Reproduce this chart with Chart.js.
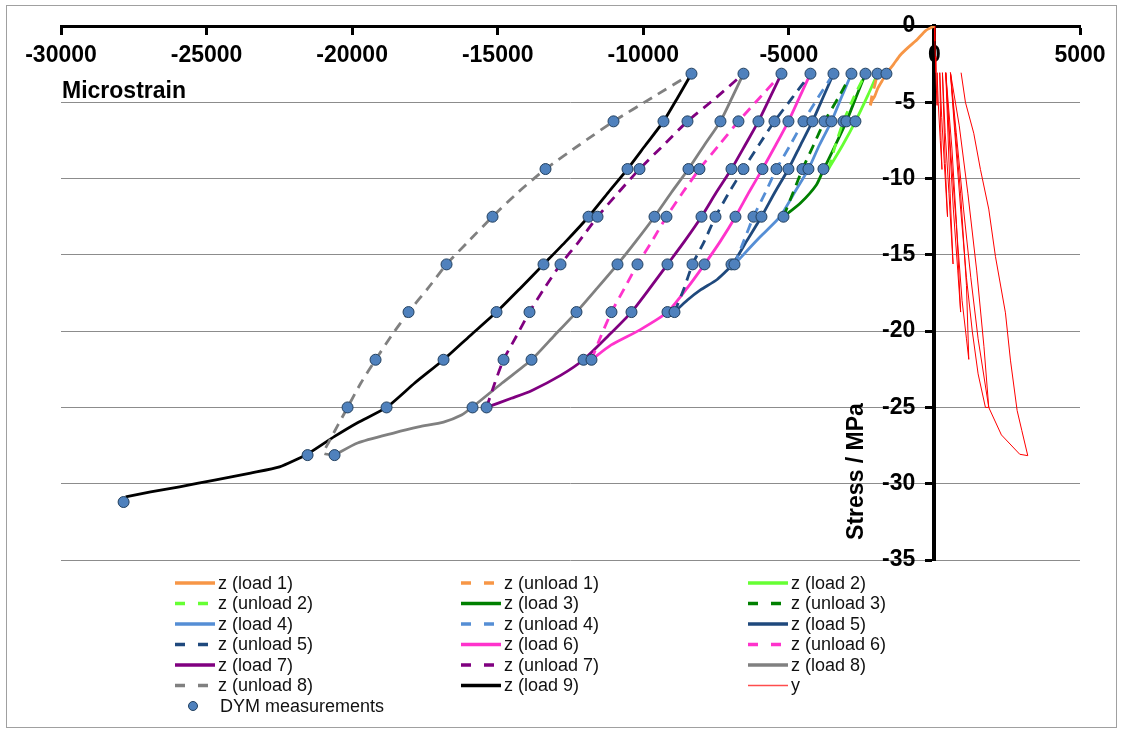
<!DOCTYPE html>
<html>
<head>
<meta charset="utf-8">
<title>Stress vs microstrain</title>
<script src="https://cdn.jsdelivr.net/npm/chart.js@4.4.1/dist/chart.umd.min.js"></script>
<style>
  html, body { margin: 0; padding: 0; background: #fff; }
  #wrap { width: 1123px; height: 733px; }
</style>
</head>
<body>
<div id="wrap"><canvas id="myChart" width="1123" height="733"></canvas></div>
<script>
// [microstrain, stress MPa]
const zLoad1 = [[0,0],[-300,-0.3],[-600,-0.9],[-900,-1.4],[-1170,-1.9],[-1400,-2.5],[-1650,-3.125],[-1800,-3.6],[-1950,-4.1],[-2050,-4.6],[-2150,-4.9],[-2200,-5.2]];
const zUnload1 = [[-2200,-5.2],[-2150,-4.6],[-2050,-3.9],[-1957,-3.125]];
const zLoad2 = [[-1957,-3.125],[-2300,-4.6],[-2713,-6.25],[-3150,-7.8],[-3640,-9.375]];
const zUnload2 = [[-3640,-9.375],[-3400,-7.8],[-3125,-6.25],[-2750,-4.6],[-2369,-3.125]];
const zLoad3 = [[-2369,-3.125],[-2700,-4.7],[-3022,-6.25],[-3400,-7.8],[-3800,-9.375],[-4050,-10.4],[-4600,-11.6],[-5185,-12.5]];
const zUnload3 = [[-5185,-12.5],[-4850,-10.9],[-4533,-9.375],[-4150,-7.8],[-3777,-6.25],[-3300,-4.7],[-2850,-3.125]];
const zLoad4 = [[-2850,-3.125],[-3200,-4.7],[-3537,-6.25],[-3950,-7.8],[-4327,-9.375],[-4800,-10.9],[-5300,-12.5],[-5975,-13.8],[-6421,-14.7],[-6868,-15.625]];
const zUnload4 = [[-6868,-15.625],[-6550,-14.1],[-6215,-12.5],[-5800,-10.9],[-5426,-9.375],[-4950,-7.8],[-4498,-6.25],[-4000,-4.7],[-3468,-3.125]];
const zLoad5 = [[-3468,-3.125],[-3830,-4.7],[-4190,-6.25],[-4600,-7.8],[-5014,-9.375],[-5480,-10.9],[-5941,-12.5],[-6450,-14.1],[-6937,-15.625],[-7452,-16.6],[-8035,-17.3],[-8482,-17.96],[-8928,-18.75]];
const zUnload5 = [[-8928,-18.75],[-8600,-17.2],[-8310,-15.625],[-7900,-14.1],[-7520,-12.5],[-7050,-10.9],[-6560,-9.375],[-6030,-7.8],[-5494,-6.25],[-4880,-4.7],[-4258,-3.125]];
const zLoad6 = [[-4258,-3.125],[-4640,-4.7],[-5014,-6.25],[-5450,-7.8],[-5906,-9.375],[-6370,-10.9],[-6834,-12.5],[-7350,-14.1],[-7898,-15.625],[-8500,-17.2],[-9169,-18.75],[-10100,-19.9],[-11100,-20.9],[-11780,-21.875]];
const zUnload6 = [[-11780,-21.875],[-11450,-20.3],[-11092,-18.75],[-10650,-17.2],[-10199,-15.625],[-9700,-14.1],[-9203,-12.5],[-8640,-10.9],[-8070,-9.375],[-7400,-7.8],[-6731,-6.25],[-6000,-4.7],[-5254,-3.125]];
const zLoad7 = [[-5254,-3.125],[-5650,-4.7],[-6044,-6.25],[-6500,-7.8],[-6971,-9.375],[-7490,-10.9],[-8001,-12.5],[-8580,-14.1],[-9169,-15.625],[-9780,-17.2],[-10405,-18.75],[-11200,-20.3],[-12053,-21.875],[-12840,-22.9],[-13840,-23.9],[-14530,-24.4],[-15384,-25]];
const zUnload7 = [[-15384,-25],[-15100,-23.4],[-14800,-21.875],[-14350,-20.3],[-13908,-18.75],[-13400,-17.2],[-12843,-15.625],[-12200,-14.1],[-11572,-12.5],[-10850,-10.9],[-10130,-9.375],[-9300,-7.8],[-8482,-6.25],[-7500,-4.7],[-6559,-3.125]];
const zLoad8 = [[-6559,-3.125],[-6950,-4.7],[-7349,-6.25],[-7900,-7.8],[-8448,-9.375],[-9030,-10.9],[-9615,-12.5],[-10250,-14.1],[-10886,-15.625],[-11590,-17.2],[-12294,-18.75],[-13060,-20.3],[-13839,-21.875],[-14850,-23.4],[-15865,-24.97],[-16243,-25.5],[-16861,-25.96],[-17719,-26.28],[-18578,-26.68],[-19814,-27.33],[-20604,-28.125]];
const zUnload8 = [[-20604,-28.125],[-20980,-28.0],[-20810,-27.3],[-20157,-25],[-19700,-23.4],[-19196,-21.875],[-18650,-20.3],[-18063,-18.75],[-17400,-17.2],[-16758,-15.625],[-16000,-14.1],[-15178,-12.5],[-14300,-10.9],[-13358,-9.375],[-12200,-7.8],[-11023,-6.25],[-9700,-4.7],[-8345,-3.125]];
const zLoad9 = [[-8345,-3.125],[-8820,-4.7],[-9306,-6.25],[-9920,-7.8],[-10542,-9.375],[-11200,-10.9],[-11881,-12.5],[-12650,-14.1],[-13427,-15.625],[-14230,-17.2],[-15041,-18.75],[-15950,-20.3],[-16861,-21.875],[-17850,-23.4],[-18818,-25],[-19814,-26.0],[-20604,-26.9],[-21531,-28.05],[-22493,-28.9],[-23489,-29.3],[-24725,-29.76],[-25927,-30.2],[-26922,-30.54],[-27780,-30.87]];

const yStrain = [[0,0],[15,-1],[30,-2],[50,-3.06],[70,-4.2],[90,-5.2],[92,-3.06],
  [130,-5],[200,-7.5],[260,-9.4],[220,-7],[183,-3.06],
  [250,-6],[340,-9],[450,-12.5],[370,-9],[275,-3.06],
  [370,-7],[500,-11],[640,-15.6],[540,-11],[389,-3.06],
  [500,-7],[650,-12],[800,-16],[900,-18.75],[760,-13],[600,-8],[389,-3.06],
  [550,-8],[750,-13],[950,-18],[1100,-20.5],[1180,-21.85],[1100,-17],[900,-11],[700,-6.5],[550,-3.06],
  [700,-7],[900,-12],[1100,-16.5],[1300,-20],[1500,-22.8],[1752,-25],[1866,-25],
  [1700,-21],[1450,-16],[1150,-11],[850,-6.5],[550,-3.06],
  [750,-7],[1000,-12],[1250,-16.5],[1500,-20.5],[1866,-25],[2300,-26.8],[2931,-28.07],[3206,-28.16],
  [3000,-26.5],[2840,-25.2],[2611,-21.9],[2439,-18.8],[2095,-15.1],[1866,-12],[1580,-9.4],[1351,-7.03],[1065,-5],[916,-3.06]];

// DYM measurements: one stress level per row, strains at that level
const dymStress = [-3.125, -6.25, -9.375, -12.5, -15.625, -18.75, -21.875, -25, -28.125, -31.2];
const dymStrain = [
  [-8345,-6559,-5254,-4258,-3468,-2850,-2369,-1957,-1648],
  [-11023,-9306,-8482,-7349,-6731,-6044,-5494,-5014,-4498,-4190,-3777,-3537,-3125,-3022,-2713],
  [-13358,-10542,-10130,-8448,-8070,-6971,-6559,-5906,-5426,-5014,-4533,-4327,-3812],
  [-15178,-11881,-11572,-9615,-9203,-8001,-7520,-6834,-6215,-5941,-5185],
  [-16758,-13427,-12843,-10886,-10199,-9169,-8310,-7898,-6971,-6868],
  [-18063,-15041,-13908,-12294,-11092,-10405,-9169,-8928],
  [-19196,-16861,-14800,-13839,-12053,-11779],
  [-20157,-18818,-15865,-15384],
  [-21531,-20604],
  [-27850]
];

const xTicks = [-30000, -25000, -20000, -15000, -10000, -5000, 0, 5000];
const yTicks = [0, -5, -10, -15, -20, -25, -30, -35];

const zSeries = [
  ['z (load 1)', zLoad1, '#F79646', false],
  ['z (unload 1)', zUnload1, '#F79646', true],
  ['z (load 2)', zLoad2, '#66FF33', false],
  ['z (unload 2)', zUnload2, '#66FF33', true],
  ['z (load 3)', zLoad3, '#008000', false],
  ['z (unload 3)', zUnload3, '#008000', true],
  ['z (load 4)', zLoad4, '#558ED5', false],
  ['z (unload 4)', zUnload4, '#558ED5', true],
  ['z (load 5)', zLoad5, '#1F497D', false],
  ['z (unload 5)', zUnload5, '#1F497D', true],
  ['z (load 6)', zLoad6, '#FF33CC', false],
  ['z (unload 6)', zUnload6, '#FF33CC', true],
  ['z (load 7)', zLoad7, '#800080', false],
  ['z (unload 7)', zUnload7, '#800080', true],
  ['z (load 8)', zLoad8, '#808080', false],
  ['z (unload 8)', zUnload8, '#808080', true],
  ['z (load 9)', zLoad9, '#000000', false]
];

const toPts = arr => arr.map(p => ({x: p[0], y: p[1]}));

const datasets = zSeries.map(s => ({
  label: s[0],
  data: toPts(s[1]),
  showLine: true,
  borderColor: s[2],
  backgroundColor: s[2],
  borderWidth: 2.8,
  borderDash: s[3] ? [10, 7] : [],
  pointRadius: 0,
  tension: 0.2
}));

datasets.push({
  label: 'y',
  data: toPts(yStrain),
  showLine: true,
  borderColor: '#FF0000',
  backgroundColor: '#FF0000',
  borderWidth: 1,
  pointRadius: 0,
  tension: 0
});

const dymPts = [];
dymStress.forEach((s, i) => dymStrain[i].forEach(v => dymPts.push({x: v, y: s})));
datasets.push({
  label: 'DYM measurements',
  data: dymPts,
  showLine: false,
  pointRadius: 5.5,
  pointBorderWidth: 1,
  backgroundColor: '#4F81BD',
  borderColor: '#22405F',
  order: -1
});

const FONT = '"Liberation Sans", Arial, sans-serif';

const extras = {
  id: 'extras',
  beforeDraw(chart) {
    const ctx = chart.ctx;
    ctx.save();
    ctx.fillStyle = '#fff';
    ctx.fillRect(0, 0, chart.width, chart.height);
    ctx.strokeStyle = '#a0a0a0';
    ctx.lineWidth = 1;
    ctx.strokeRect(6.5, 5.5, 1110, 722);
    ctx.restore();
  },
  afterDraw(chart) {
    const ctx = chart.ctx;
    const xs = chart.scales.x, ys = chart.scales.y;
    const area = chart.chartArea;
    ctx.save();
    ctx.fillStyle = '#000';
    ctx.font = 'bold 23px ' + FONT;
    ctx.textBaseline = 'middle';
    ctx.textAlign = 'left';
    ctx.fillText('Microstrain', area.left + 1, ys.getPixelForValue(-4.3));
    ctx.save();
    ctx.translate(xs.getPixelForValue(0) - 78, ys.getPixelForValue(-29.2));
    ctx.rotate(-Math.PI / 2);
    ctx.textAlign = 'center';
    ctx.fillText('Stress / MPa', 0, 0);
    ctx.restore();

    // legend, 3 columns
    const colX = [175, 461, 748];
    const rowY = area.bottom + 23;
    const rowH = 20.5;
    ctx.font = '18px ' + FONT;
    chart.data.datasets.forEach((ds, i) => {
      const col = i % 3, row = Math.floor(i / 3);
      const x = colX[col], y = rowY + row * rowH;
      if (ds.showLine) {
        ctx.save();
        ctx.strokeStyle = ds.borderColor;
        ctx.lineWidth = ds.borderWidth < 2 ? 1.5 : 3.5;
        ctx.globalAlpha = ds.borderWidth < 2 ? 0.7 : 1;
        ctx.setLineDash(ds.borderDash && ds.borderDash.length ? [10, 13] : []);
        ctx.beginPath();
        ctx.moveTo(x, y);
        ctx.lineTo(x + 40, y);
        ctx.stroke();
        ctx.restore();
      } else {
        ctx.beginPath();
        ctx.arc(x + 18, y, 4.5, 0, Math.PI * 2);
        ctx.fillStyle = ds.backgroundColor;
        ctx.fill();
        ctx.strokeStyle = ds.borderColor;
        ctx.lineWidth = 1;
        ctx.stroke();
      }
      ctx.fillStyle = '#111';
      ctx.textAlign = 'left';
      ctx.fillText(ds.label, x + (ds.showLine ? 43 : 45), y + 1);
    });
    ctx.restore();
  }
};

new Chart(document.getElementById('myChart'), {
  type: 'scatter',
  data: { datasets },
  plugins: [extras],
  options: {
    responsive: false,
    animation: false,
    devicePixelRatio: 1,
    layout: { padding: { left: 61, right: 43, top: 26, bottom: 173 } },
    plugins: { legend: { display: false }, tooltip: { enabled: false } },
    scales: {
      x: {
        type: 'linear',
        position: { y: 0 },
        z: 1,
        min: -30000, max: 5000,
        afterBuildTicks: s => { s.ticks = xTicks.map(v => ({value: v})); },
        border: { display: true, color: '#000', width: 3 },
        grid: { drawOnChartArea: false, drawTicks: true, tickLength: 7, tickWidth: 3, tickColor: '#000' },
        ticks: { padding: 9, color: '#000', font: { family: FONT, size: 23, weight: 'bold' }, maxRotation: 0, autoSkip: false, callback: v => String(v) }
      },
      y: {
        type: 'linear',
        position: { x: 0 },
        min: -35, max: 0,
        afterBuildTicks: s => { s.ticks = yTicks.map(v => ({value: v})); },
        border: { display: true, color: '#000', width: 4 },
        grid: { drawOnChartArea: true, color: '#8c8c8c', lineWidth: 1, drawTicks: true, tickLength: 7, tickWidth: 3, tickColor: '#000' },
        ticks: { color: '#000', font: { family: FONT, size: 23, weight: 'bold' }, autoSkip: false, callback: v => v + '   ' }
      }
    }
  }
});
</script>
</body>
</html>
